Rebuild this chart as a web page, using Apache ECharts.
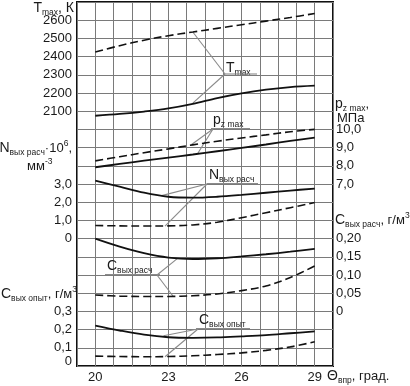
<!DOCTYPE html>
<html>
<head>
<meta charset="utf-8">
<script src="https://cdn.jsdelivr.net/npm/echarts@6/dist/echarts.min.js"></script>
<style>
  html, body { margin: 0; padding: 0; background: #fff; }
  #chart { width: 410px; height: 386px; }
</style>
</head>
<body>
<div id="chart"></div>
<script>
// угол впрыска, град.
var theta = [20, 21, 22, 23, 24, 25, 26, 27, 28, 29];
var xLabels = [20, 23, 26, 29];

// T max, K
var tmaxDashed = [2425, 2460, 2490, 2515, 2535, 2555, 2575, 2595, 2615, 2637];
var tmaxSolid = [2075, 2085, 2098, 2115, 2140, 2172, 2198, 2218, 2232, 2240];
// p z max, МПа
var pzDashed = [8.27, 8.5, 8.72, 8.93, 9.15, 9.35, 9.53, 9.7, 9.87, 10.0];
var pzSolid = [7.92, 8.1, 8.28, 8.45, 8.62, 8.8, 8.98, 9.17, 9.37, 9.55];
// N вых расч * 10^6, мм^-3
var nSolid = [3.18, 2.85, 2.52, 2.3, 2.25, 2.3, 2.4, 2.52, 2.64, 2.75];
var nDashed = [0.72, 0.7, 0.69, 0.7, 0.75, 0.9, 1.15, 1.42, 1.7, 1.98];
// C вых расч, г/м3
var cRasSolid = [0.2, 0.178, 0.16, 0.148, 0.144, 0.146, 0.151, 0.157, 0.164, 0.172];
var cRasDashed = [0.045, 0.042, 0.041, 0.041, 0.043, 0.048, 0.057, 0.07, 0.093, 0.125];
// C вых опыт, г/м3
var cOpSolid = [0.222, 0.195, 0.172, 0.158, 0.155, 0.157, 0.163, 0.17, 0.18, 0.19];
var cOpDashed = [0.054, 0.052, 0.051, 0.052, 0.056, 0.063, 0.072, 0.086, 0.105, 0.133];

// подписи шкал
var tLabels = [2100, 2200, 2300, 2400, 2500, 2600];
var pLabels = [7, 8, 9, 10];
var nLabels = [0, 1, 2, 3];
var cRasLabels = [0, 0.05, 0.1, 0.15, 0.2];
var cOpLabels = [0, 0.1, 0.2, 0.3];

var FONT = '"Liberation Sans", Arial, sans-serif';
var INK = '#1a1a1a';

// сетка по x шагом 0.75 град, от 19.25
function tx(t) { return (t - 19.25) / 0.75; }

function fmt(v, d) {
  if (Math.abs(v) < 1e-9) return '0';
  return v.toFixed(d).replace('.', ',');
}
function labeler(list, d, zeroRich) {
  return function (v) {
    for (var i = 0; i < list.length; i++) {
      if (Math.abs(v - list[i]) < 1e-6) {
        if (zeroRich && list[i] === 0) return '{z|0}';
        return fmt(list[i], d);
      }
    }
    return '';
  };
}

function yAx(min, max, step, pos, list, d, extra) {
  var a = {
    type: 'value', position: pos, min: min, max: max, interval: step,
    axisLine: { show: false }, axisTick: { show: false },
    splitLine: { show: false },
    axisLabel: {
      formatter: labeler(list, d, extra && extra.zero),
      fontSize: 13, fontFamily: FONT, color: INK,
      margin: pos === 'left' ? 5 : 3,
      showMinLabel: true, showMaxLabel: true
    }
  };
  if (extra && extra.zero) a.axisLabel.rich = { z: { fontSize: 13, fontFamily: FONT, color: INK, padding: [0, 0, 9, 0] } };
  if (extra && extra.grid) a.splitLine = { show: true, lineStyle: { color: '#7a7a7a', width: 1 } };
  return a;
}

function pts(arr) {
  return theta.map(function (t, i) { return [tx(t), arr[i]]; });
}
function line(name, arr, yi, dashed) {
  return {
    name: name, type: 'line', xAxisIndex: 0, yAxisIndex: yi,
    data: pts(arr), smooth: 0.35, symbol: 'none', silent: true,
    lineStyle: { color: '#111', width: dashed ? 1.6 : 1.8, type: dashed ? [8, 4] : 'solid' }
  };
}

var chart = echarts.init(document.getElementById('chart'));

chart.setOption({
  animation: false,
  backgroundColor: '#fff',
  grid: { left: 77, right: 77, top: 2, bottom: 20, show: true, borderColor: '#111', borderWidth: 2, containLabel: false },
  xAxis: {
    type: 'value', min: 0, max: 14, interval: 1,
    axisLine: { show: false }, axisTick: { show: false },
    splitLine: { show: true, lineStyle: { color: '#7a7a7a', width: 1 } },
    axisLabel: {
      fontSize: 13, fontFamily: FONT, color: INK, margin: 5,
      formatter: function (v) {
        var t = 19.25 + 0.75 * v;
        for (var i = 0; i < xLabels.length; i++) if (Math.abs(t - xLabels[i]) < 1e-6) return String(xLabels[i]);
        return '';
      }
    }
  },
  yAxis: [
    yAx(700, 2700, 100, 'left', tLabels, 0, { grid: true }),
    yAx(-7, 13, 1, 'left', nLabels, 1),
    yAx(0, 2, 0.1, 'left', cOpLabels, 1, { zero: true }),
    yAx(-3, 17, 1, 'right', pLabels, 1),
    yAx(-0.15, 0.85, 0.05, 'right', cRasLabels, 2)
  ],
  series: [
    line('Tmax пунктир', tmaxDashed, 0, true),
    line('Tmax', tmaxSolid, 0, false),
    line('pz max пунктир', pzDashed, 3, true),
    line('pz max', pzSolid, 3, false),
    line('N вых расч', nSolid, 1, false),
    line('N вых расч пунктир', nDashed, 1, true),
    line('C вых расч', cRasSolid, 4, false),
    line('C вых расч пунктир', cRasDashed, 4, true),
    line('C вых опыт', cOpSolid, 2, false),
    line('C вых опыт пунктир', cOpDashed, 2, true)
  ]
});

// подписи с индексами
var rich = {
  m: { fontSize: 14, fontFamily: FONT, fill: INK, color: INK, lineHeight: 18, verticalAlign: 'middle' },
  n: { fontSize: 13, fontFamily: FONT, fill: INK, color: INK, lineHeight: 18, verticalAlign: 'middle' },
  s: { fontSize: 8.5, fontFamily: FONT, fill: INK, color: INK, lineHeight: 9, verticalAlign: 'bottom' },
  u: { fontSize: 8.5, fontFamily: FONT, fill: INK, color: INK, lineHeight: 9, verticalAlign: 'top' }
};
function txt(s, x, y, align) {
  return { type: 'text', x: x, y: y, silent: true,
    style: { text: s, rich: rich, align: align || 'left', verticalAlign: 'middle', fill: INK } };
}
function seg(x1, y1, x2, y2) {
  return { type: 'line', silent: true, shape: { x1: x1, y1: y1, x2: x2, y2: y2 },
    style: { stroke: '#8a8a8a', lineWidth: 1.1 } };
}

// выноски: положение подписи (пиксели) и точки на кривых (данные)
var notes = [
  { text: '{m|T}{s|max}', x: 226, y: 68, ul: [225, 257, 74], from: [225, 74], to: [[24, 2535, 0], [24, 2144, 0]] },
  { text: '{m|p}{s|z max}', x: 213, y: 120, ul: [211, 250, 128.5], from: [213, 129], to: [[23.95, 9.17, 3], [24.2, 8.68, 3]] },
  { text: '{m|N}{s|вых расч}', x: 209, y: 175, ul: [207, 258, 183.5], from: [207, 184], to: [[22.72, 2.36, 1], [22.86, 0.69, 1]] },
  { text: '{m|С}{s|вых расч}', x: 107, y: 266, ul: [105, 160, 274.5], from: [157, 275], to: [[23.4, 0.147, 4], [23.2, 0.041, 4]] },
  { text: '{m|С}{s|вых опыт}', x: 199, y: 320, ul: [196, 250, 328.5], from: [198, 329], to: [[22.8, 0.166, 2], [22.86, 0.051, 2]] }
];

var g = [];
notes.forEach(function (n) {
  g.push(txt(n.text, n.x, n.y));
  g.push(seg(n.ul[0], n.ul[2], n.ul[1], n.ul[2]));
  n.to.forEach(function (p) {
    var px = chart.convertToPixel({ xAxisIndex: 0, yAxisIndex: p[2] }, [tx(p[0]), p[1]]);
    g.push(seg(n.from[0], n.from[1], px[0], px[1]));
  });
});

// названия шкал
g.push(txt('{m|T}{s|max}{m|, К}', 74, 8, 'right'));
g.push(txt('{m|N}{s|вых расч}{n|·10}{u|6}{n|,}', 72, 148, 'right'));
g.push(txt('{n|мм}{u|-3}', 27, 166, 'left'));
g.push(txt('{m|С}{s|вых опыт}{n|, г/м}{u|3}', 1, 294, 'left'));
g.push(txt('{m|p}{s|z max}{n|,}', 335, 104, 'left'));
g.push(txt('{n|МПа}', 337, 118, 'left'));
g.push(txt('{m|С}{s|вых расч}{n|, г/м}{u|3}', 335, 220, 'left'));
g.push(txt('{m|Θ}{s|впр}{n|, град.}', 327, 376, 'left'));

chart.setOption({ graphic: g });
</script>
</body>
</html>
